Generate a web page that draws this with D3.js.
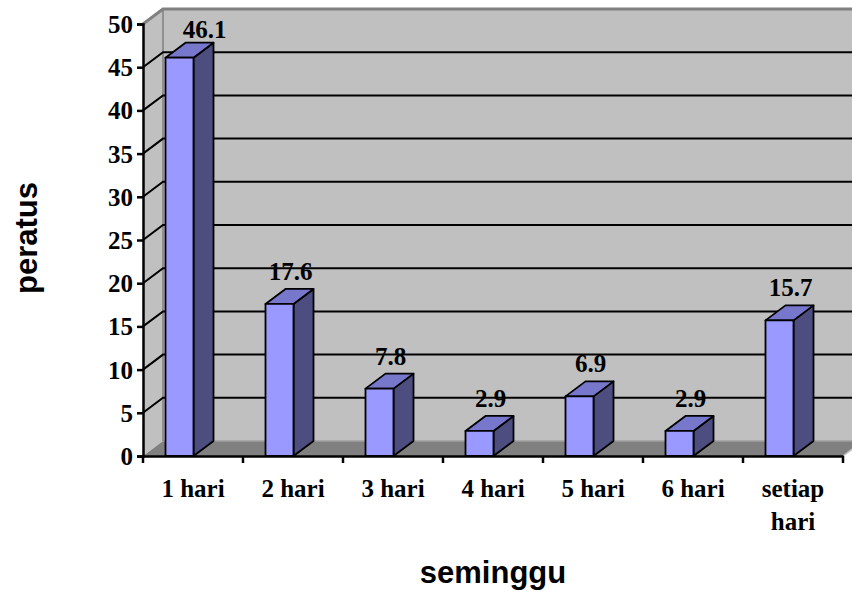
<!DOCTYPE html>
<html>
<head>
<meta charset="utf-8">
<script src="https://cdn.jsdelivr.net/npm/d3@7"></script>
<style>
  body { margin: 0; background: #fff; }
  .tick text, .val, .cat { font-family: "Liberation Serif", "Times New Roman", serif; font-weight: bold; font-size: 25px; }
  .title { font-family: "Liberation Sans", Arial, sans-serif; font-weight: bold; font-size: 31px; }
</style>
</head>
<body>
<svg id="chart" width="852" height="592"></svg>
<script>
var categories = ["1 hari", "2 hari", "3 hari", "4 hari", "5 hari", "6 hari", "setiap hari"];
var values = [46.1, 17.6, 7.8, 2.9, 6.9, 2.9, 15.7];
var yTicks = [0, 5, 10, 15, 20, 25, 30, 35, 40, 45, 50];

var svg = d3.select("#chart");

// note: "top" is taken by window.top, so use plot* names
var plotLeft = 143, plotRight = 843, plotTop = 24, plotBottom = 456;
var dx = 20, dy = -15;   // depth of the 3d box
var wallEnd = plotRight + dx + 30;

var x = d3.scaleBand().domain(categories).range([plotLeft, plotRight]).padding(0);
var y = d3.scaleLinear().domain([0, 50]).range([plotBottom, plotTop]);

// walls
var wall = svg.append("g");
wall.append("polygon")
    .attr("points", [[plotLeft+dx, plotTop+dy], [wallEnd, plotTop+dy], [wallEnd, plotBottom+dy], [plotLeft+dx, plotBottom+dy]].join(" "))
    .style("fill", "#c0c0c0");
wall.append("polygon")
    .attr("points", [[plotLeft, plotTop], [plotLeft+dx, plotTop+dy], [plotLeft+dx, plotBottom+dy], [plotLeft, plotBottom]].join(" "))
    .style("fill", "#c0c0c0");
wall.append("polygon")
    .attr("points", [[plotLeft, plotBottom], [plotLeft+dx, plotBottom+dy], [plotRight+dx, plotBottom+dy], [plotRight, plotBottom]].join(" "))
    .style("fill", "#808080");
wall.append("line")
    .attr("x1", plotLeft+dx).attr("y1", plotBottom+dy).attr("x2", wallEnd).attr("y2", plotBottom+dy)
    .style("stroke", "#a0a0a0").style("stroke-width", 1.5);
wall.append("line")
    .attr("x1", plotRight).attr("y1", plotBottom).attr("x2", plotRight+dx).attr("y2", plotBottom+dy)
    .style("stroke", "#c0c0c0").style("stroke-width", 1.5);

// top border of walls
wall.append("polyline")
    .attr("points", [[plotLeft, plotTop], [plotLeft+dx, plotTop+dy], [wallEnd, plotTop+dy]].join(" "))
    .style("fill", "none").style("stroke", "#808080").style("stroke-width", 3);
wall.append("line")
    .attr("x1", plotLeft+dx).attr("y1", plotTop+dy).attr("x2", plotLeft+dx).attr("y2", plotBottom+dy)
    .style("stroke", "#808080").style("stroke-width", 1.5);

// gridlines
var grid = yTicks.filter(function(d){ return d > 0 && d < 50; });
wall.selectAll(".grid").data(grid).enter().append("polyline")
    .attr("class", "grid")
    .attr("points", function(d){ return [[plotLeft, y(d)], [plotLeft+dx, y(d)+dy], [wallEnd, y(d)+dy]].join(" "); })
    .style("fill", "none").style("stroke", "#000").style("stroke-width", 2);

// bars
var bw = 28, off = 22.5;
var bars = svg.selectAll(".bar").data(values).enter().append("g").attr("class", "bar");

bars.append("polygon")
    .attr("points", function(d, i){
      var fx = x(categories[i]) + off + bw, yt = y(d);
      return [[fx, yt], [fx+dx, yt+dy], [fx+dx, plotBottom+dy], [fx, plotBottom]].join(" ");
    })
    .style("fill", "#4d4d80");
bars.append("polygon")
    .attr("points", function(d, i){
      var fx = x(categories[i]) + off, yt = y(d);
      return [[fx, yt], [fx+dx, yt+dy], [fx+bw+dx, yt+dy], [fx+bw, yt]].join(" ");
    })
    .style("fill", "#7777cc");
bars.append("rect")
    .attr("x", function(d, i){ return x(categories[i]) + off; })
    .attr("y", function(d){ return y(d); })
    .attr("width", bw)
    .attr("height", function(d){ return plotBottom - y(d); })
    .style("fill", "#9999ff");
bars.selectAll("polygon, rect")
    .style("stroke", "#000").style("stroke-width", 1.8).style("stroke-linejoin", "round");

// value labels
svg.selectAll(".val").data(values).enter().append("text")
    .attr("class", "val")
    .attr("text-anchor", "middle")
    .attr("x", function(d, i){
      var cx = x(categories[i]) + off + bw/2 + dx/2 + 1;
      return y(d) + dy - 9 < plotTop + 14 ? cx + 14 : cx;
    })
    .attr("y", function(d){ return Math.max(y(d) + dy - 9, plotTop + 14); })
    .text(function(d){ return d.toFixed(1); });

// y axis
var yAxis = svg.append("g")
    .attr("transform", "translate(" + plotLeft + ",0)")
    .call(d3.axisLeft(y).tickValues(yTicks).tickSize(6).tickPadding(4));
yAxis.select(".domain").style("stroke", "#000").style("stroke-width", 2.5);
yAxis.selectAll(".tick line").style("stroke", "#000").style("stroke-width", 2.5);
yAxis.selectAll(".tick text").style("fill", "#000").attr("dy", "0.34em");

// x axis
var xAxis = svg.append("g")
    .attr("transform", "translate(0," + plotBottom + ")")
    .call(d3.axisBottom(x).tickSize(0).tickFormat(""));
xAxis.select(".domain").style("stroke", "#000").style("stroke-width", 2.5);
xAxis.selectAll(".tick").remove();
xAxis.selectAll(".sep").data(categories.concat([null])).enter().append("line")
    .attr("class", "sep")
    .attr("x1", function(d, i){ return plotLeft + i * x.bandwidth(); })
    .attr("x2", function(d, i){ return plotLeft + i * x.bandwidth(); })
    .attr("y1", 0).attr("y2", 7)
    .style("stroke", "#000").style("stroke-width", 2.5);

// category labels, wrapped if wider than the band
svg.selectAll(".cat").data(categories).enter().append("text")
    .attr("class", "cat")
    .attr("text-anchor", "middle")
    .attr("x", function(d){ return x(d) + x.bandwidth()/2; })
    .attr("y", 497)
    .each(function(d){
      var t = d3.select(this);
      t.text(d);
      if (this.getComputedTextLength() > x.bandwidth() - 10) {
        t.text(null);
        d.split(" ").forEach(function(w, k){
          t.append("tspan").attr("x", x(d) + x.bandwidth()/2).attr("dy", k ? 33 : 0).text(w);
        });
      }
    });

// axis titles
svg.append("text").attr("class", "title")
    .attr("text-anchor", "middle")
    .attr("transform", "translate(37,238) rotate(-90)")
    .text("peratus");
svg.append("text").attr("class", "title")
    .attr("text-anchor", "middle")
    .attr("x", 493).attr("y", 583)
    .text("seminggu");
</script>
</body>
</html>
